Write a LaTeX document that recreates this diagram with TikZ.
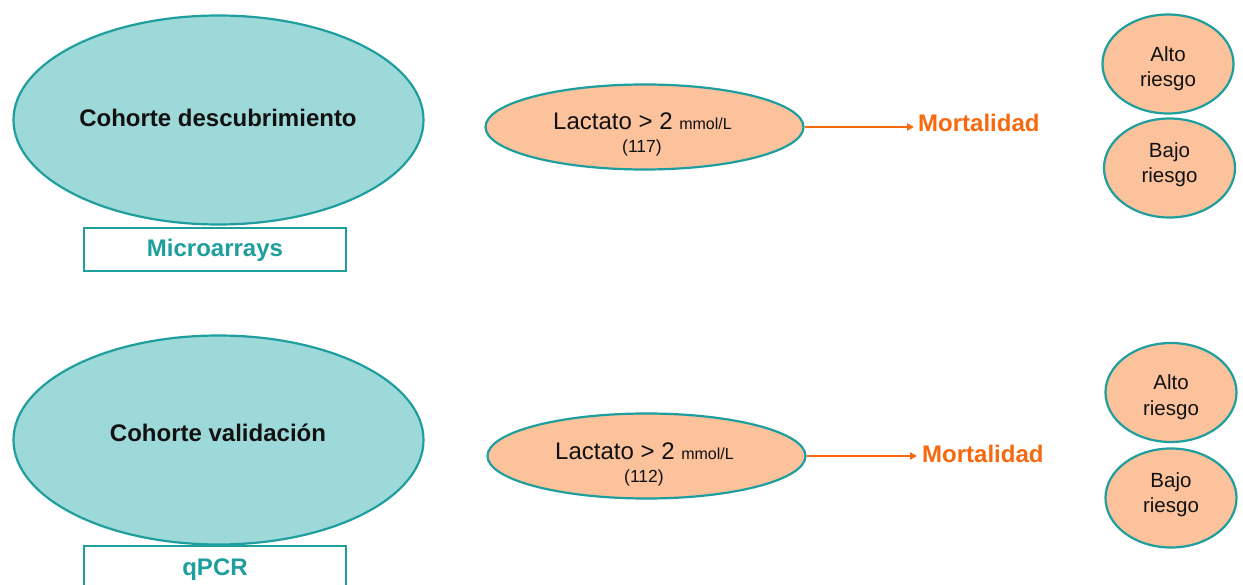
\documentclass[tikz,border=0pt]{standalone}
\usepackage{fontspec}
\setmainfont{Liberation Sans}
\usetikzlibrary{shapes.geometric,arrows.meta}
\definecolor{tealline}{HTML}{1F9E9E}
\definecolor{tealfill}{HTML}{9DD9D9}
\definecolor{orfill}{HTML}{FBC29C}
\definecolor{ortext}{HTML}{F7690F}
\definecolor{tealtext}{HTML}{1F9E9E}
\definecolor{inktext}{HTML}{111111}
\begin{document}
\begin{tikzpicture}[x=1pt,y=-1pt,
  cohort/.style={ellipse, draw=tealline, fill=tealfill, line width=2.2pt, inner sep=0, minimum width=410pt, minimum height=209pt},
  lact/.style={ellipse, draw=tealline, fill=orfill, line width=2.2pt, inner sep=0, minimum width=318pt, minimum height=85pt},
  risk/.style={ellipse, draw=tealline, fill=orfill, line width=2.2pt, inner sep=0, minimum width=131pt, minimum height=99pt},
  techbox/.style={draw=tealline, line width=1.5pt, minimum width=262pt, minimum height=43pt, inner sep=0},
  bigtxt/.style={font=\fontsize{24}{28}\selectfont\bfseries, text=inktext, anchor=base, inner sep=0},
  techtxt/.style={font=\fontsize{24}{28}\selectfont\bfseries, text=tealtext, anchor=base, inner sep=0},
  lacttxt/.style={font=\fontsize{24}{28}\selectfont, text=inktext, anchor=base, inner sep=0},
  ntxt/.style={font=\fontsize{17.5}{20}\selectfont, text=inktext, anchor=base, inner sep=0},
  risktxt/.style={font=\fontsize{20.5}{24}\selectfont, text=inktext, anchor=base, inner sep=0},
  morttxt/.style={font=\fontsize{24}{28}\selectfont\bfseries, text=ortext, anchor=base west, inner sep=0},
  arr/.style={draw=ortext, line width=2.4pt, -{Triangle[length=7pt,width=7pt]}}
]
\clip (0,0) rectangle (1243,585);
\fill[white] (0,0) rectangle (1243,585);

% upper row
\node[cohort] (c1) at (218.5,120) {};
\node[bigtxt] (c1t) at (218,127) {Cohorte descubrimiento};
\node[techbox] (b1) at (215,249.5) {};
\node[techtxt] (b1t) at (215,257) {Microarrays};

\node[lact] (l1) at (644.5,127) {};
\node[lacttxt] (l1a) at (642.5,130) {Lactato > 2 {\fontsize{16}{18}\selectfont mmol/L}};
\node[ntxt] (l1b) at (642,153) {(117)};
\node[morttxt] (m1) at (918,132) {Mortalidad};
\coordinate (m1in) at (914,127);
\draw[arr] (l1.east) -- (m1in);

\node[risk] (a1) at (1168,64) {};
\node[risktxt] (a1a) at (1168,62) {Alto};
\node[risktxt] (a1b) at (1168,87) {riesgo};
\node[risk] (r1) at (1169.5,168) {};
\node[risktxt] (r1a) at (1169.5,158) {Bajo};
\node[risktxt] (r1b) at (1169.5,183) {riesgo};

% lower row
\node[cohort] (c2) at (218.5,440) {};
\node[bigtxt] (c2t) at (218,442) {Cohorte validación};
\node[techbox] (b2) at (215,567.5) {};
\node[techtxt] (b2t) at (215,575) {qPCR};

\node[lact] (l2) at (646.5,456) {};
\node[lacttxt] (l2a) at (644.5,459) {Lactato > 2 {\fontsize{16}{18}\selectfont mmol/L}};
\node[ntxt] (l2b) at (644,482) {(112)};
\node[morttxt] (m2) at (922,462) {Mortalidad};
\coordinate (m2in) at (917,456);
\draw[arr] (l2.east) -- (m2in);

\node[risk] (a2) at (1171,392.5) {};
\node[risktxt] (a2a) at (1171,390) {Alto};
\node[risktxt] (a2b) at (1171,415) {riesgo};
\node[risk] (r2) at (1171,498) {};
\node[risktxt] (r2a) at (1171,487) {Bajo};
\node[risktxt] (r2b) at (1171,512) {riesgo};
\end{tikzpicture}
\end{document}
